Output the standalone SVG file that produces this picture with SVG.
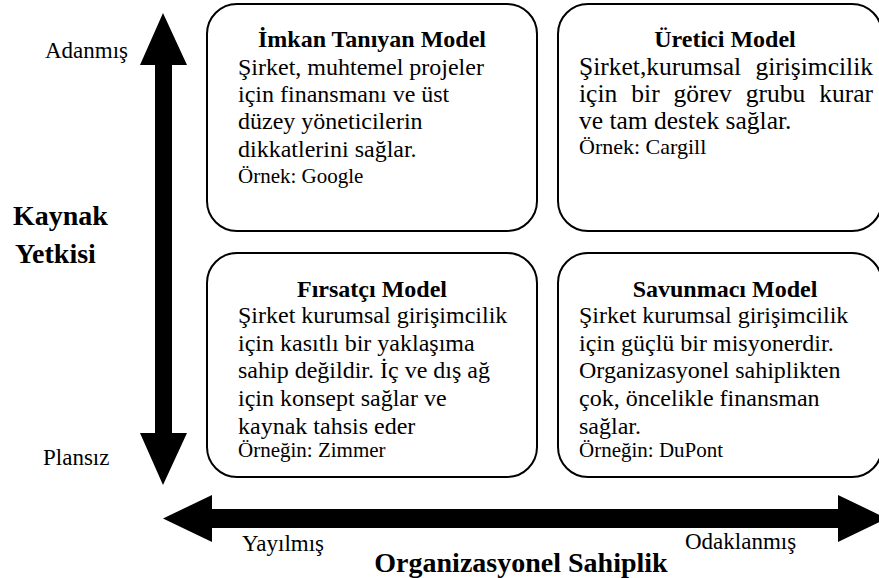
<svg xmlns="http://www.w3.org/2000/svg" width="879" height="578" viewBox="0 0 879 578">
<style>
text{font-family:'Liberation Serif','Times New Roman',serif;fill:#000}
.t{font-size:24px;font-weight:bold;text-anchor:middle}
.b{font-size:24px}
.s{font-size:21px}
.b2{font-size:25.5px}
.s2{font-size:22px}
.ax{font-size:23px}
.axb{font-size:28px;font-weight:bold}
.box{fill:#fff;stroke:#000;stroke-width:2}
.arr{fill:#000}
</style>
<rect width="879" height="578" fill="#fff"/>
<g id="axes">
<polygon class="arr" points="163,13 187,65 172,65 172,433 187,433 163,485 140,433 155,433 155,65 140,65"/>
<polygon class="arr" points="163,518.5 212,495 212,509 838,509 838,495 887,518.5 838,542 838,528 212,528 212,542"/>
</g>
<g id="axis-labels">
<text class="ax" x="45" y="58">Adanmış</text>
<text class="ax" x="43" y="465">Plansız</text>
<text class="axb" x="13" y="225">Kaynak</text>
<text class="axb" x="15" y="263">Yetkisi</text>
<text class="ax" x="242" y="551">Yayılmış</text>
<text class="ax" x="685" y="549">Odaklanmış</text>
<text class="axb" x="521" y="572" text-anchor="middle">Organizasyonel Sahiplik</text>
</g>
<g id="imkan">
<rect class="box" x="207" y="4" width="330" height="227" rx="30"/>
<text class="t" x="372" y="47">İmkan Tanıyan Model</text>
<text class="b" x="238" y="75">Şirket, muhtemel projeler</text>
<text class="b" x="238" y="102">için finansmanı ve üst</text>
<text class="b" x="238" y="129">düzey yöneticilerin</text>
<text class="b" x="238" y="157">dikkatlerini sağlar.</text>
<text class="s" x="238" y="183">Örnek: Google</text>
</g>
<g id="uretici">
<rect class="box" x="558" y="4" width="324" height="227" rx="30"/>
<text class="t" x="725" y="47">Üretici Model</text>
<text class="b2" y="75"><tspan x="579">Şirket,kurumsal</tspan><tspan x="873" text-anchor="end">girişimcilik</tspan></text>
<text class="b2" y="102"><tspan x="579">için</tspan><tspan x="631.3">bir</tspan><tspan x="673.6">görev</tspan><tspan x="745.7">grubu</tspan><tspan x="873" text-anchor="end">kurar</tspan></text>
<text class="b2" x="579" y="129">ve tam destek sağlar.</text>
<text class="s2" x="579" y="154">Örnek: Cargill</text>
</g>
<g id="firsatci">
<rect class="box" x="207" y="253" width="330" height="224" rx="30"/>
<text class="t" x="372" y="297">Fırsatçı Model</text>
<text class="b" x="238" y="323">Şirket kurumsal girişimcilik</text>
<text class="b" x="238" y="351">için kasıtlı bir yaklaşıma</text>
<text class="b" x="238" y="378">sahip değildir. İç ve dış ağ</text>
<text class="b" x="238" y="406">için konsept sağlar ve</text>
<text class="b" x="238" y="434">kaynak tahsis eder</text>
<text class="s" x="238" y="457">Örneğin: Zimmer</text>
</g>
<g id="savunmaci">
<rect class="box" x="558" y="253" width="324" height="224" rx="30"/>
<text class="t" x="725" y="297">Savunmacı Model</text>
<text class="b" x="579" y="323">Şirket kurumsal girişimcilik</text>
<text class="b" x="579" y="351">için güçlü bir misyonerdir.</text>
<text class="b" x="579" y="378">Organizasyonel sahiplikten</text>
<text class="b" x="579" y="406">çok, öncelikle finansman</text>
<text class="b" x="579" y="434">sağlar.</text>
<text class="s" x="579" y="457">Örneğin: DuPont</text>
</g>
</svg>
